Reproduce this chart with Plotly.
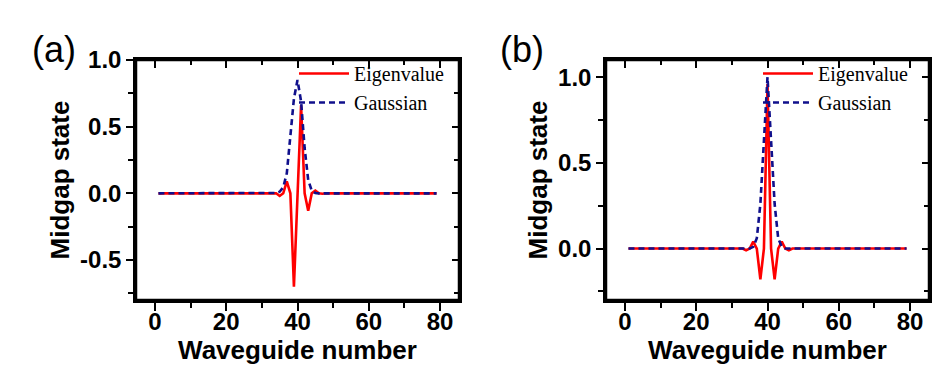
import plotly.graph_objects as go

# ---------------- data ----------------
waveguide = list(range(1, 80))

eigen_a = [
    0, 0, 0, 0, 0, 0, 0, 0, 0, 0,                      # 1-10
    0, 0, 0, 0, 0, 0, 0, 0, 0, 0,                      # 11-20
    0, 0, 0, 0, 0, 0, 0, 0, 0, 0,                      # 21-30
    0, 0, 0.003, 0, -0.02, 0, 0.09, 0, -0.70, 0,       # 31-40
    0.66, 0, -0.13, 0, 0.02, 0, -0.003, 0, 0, 0,       # 41-50
    0, 0, 0, 0, 0, 0, 0, 0, 0, 0,                      # 51-60
    0, 0, 0, 0, 0, 0, 0, 0, 0, 0,                      # 61-70
    0, 0, 0, 0, 0, 0, 0, 0, 0,                         # 71-79
]
gauss_a = [
    0, 0, 0, 0, 0, 0, 0, 0, 0, 0,
    0, 0, 0, 0, 0, 0, 0, 0, 0, 0,
    0, 0, 0, 0, 0, 0, 0, 0, 0, 0,
    0, 0, 0, 0.003, 0.012, 0.045, 0.15, 0.43, 0.71, 0.85,
    0.69, 0.34, 0.10, 0.02, 0.003, 0, 0, 0, 0, 0,
    0, 0, 0, 0, 0, 0, 0, 0, 0, 0,
    0, 0, 0, 0, 0, 0, 0, 0, 0, 0,
    0, 0, 0, 0, 0, 0, 0, 0, 0,
]
eigen_b = [
    0, 0, 0, 0, 0, 0, 0, 0, 0, 0,
    0, 0, 0, 0, 0, 0, 0, 0, 0, 0,
    0, 0, 0, 0, 0, 0, 0, 0, 0, 0,
    0, 0, 0, -0.01, 0, 0.04, 0, -0.18, 0, 0.96,
    0, -0.18, 0, 0.04, 0, -0.01, 0, 0, 0, 0,
    0, 0, 0, 0, 0, 0, 0, 0, 0, 0,
    0, 0, 0, 0, 0, 0, 0, 0, 0, 0,
    0, 0, 0, 0, 0, 0, 0, 0, 0,
]
gauss_b = [
    0, 0, 0, 0, 0, 0, 0, 0, 0, 0,
    0, 0, 0, 0, 0, 0, 0, 0, 0, 0,
    0, 0, 0, 0, 0, 0, 0, 0, 0, 0,
    0, 0, 0, 0, 0, 0.01, 0.06, 0.26, 0.63, 1.0,
    0.63, 0.26, 0.06, 0.01, 0, 0, 0, 0, 0, 0,
    0, 0, 0, 0, 0, 0, 0, 0, 0, 0,
    0, 0, 0, 0, 0, 0, 0, 0, 0, 0,
    0, 0, 0, 0, 0, 0, 0, 0, 0,
]

x_tickvals = [0, 20, 40, 60, 80]
x_ticktext = ["0", "20", "40", "60", "80"]
ya_tickvals = [-0.5, 0.0, 0.5, 1.0]
ya_ticktext = ["-0.5", "0.0", "0.5", "1.0"]
yb_tickvals = [0.0, 0.5, 1.0]
yb_ticktext = ["0.0", "0.5", "1.0"]

series_names = ["Eigenvalue", "Gaussian"]
panel_labels = ["(a)", "(b)"]
x_title = "Waveguide number"
y_title = "Midgap state"

# ---------------- style ----------------
W, H = 945, 370
RED = "#FF0000"
BLUE = "#10108C"
TICKFONT = dict(family="Arial, Liberation Sans", size=24, color="black", weight="bold")
TITLEFONT = dict(family="Arial, Liberation Sans", size=26, color="black", weight="bold")
LEGFONT = dict(family="Times New Roman, Liberation Serif", size=20, color="black")
FRAME_W = 2.5

def px_x(p):
    return p / W

def px_y(p):
    return 1 - p / H

dom_y = [px_y(292), px_y(52)]
dom_xa = [px_x(128), px_x(451)]
dom_xb = [px_x(598), px_x(921)]
xrange_ = [-5.3, 85.3]
yrange_a = [-0.8, 1.0]
yrange_b = [-0.3, 1.1]

fig = go.Figure()

panels = [
    (eigen_a, gauss_a, "x", "y", "x3", "y3", "legend"),
    (eigen_b, gauss_b, "x2", "y2", "x4", "y4", "legend2"),
]
for (ev, gs, xa, ya, xm, ym, leg) in panels:
    fig.add_trace(go.Scatter(x=waveguide, y=ev, mode="lines", name=series_names[0],
                             line=dict(color=RED, width=2.6), xaxis=xa, yaxis=ya,
                             legend=leg))
    fig.add_trace(go.Scatter(x=waveguide, y=gs, mode="lines", name=series_names[1],
                             line=dict(color=BLUE, width=2.6, dash="6px,4px"),
                             xaxis=xa, yaxis=ya, legend=leg))
    # invisible carrier so that the mirrored (inside-tick) frame axes are drawn
    fig.add_trace(go.Scatter(x=waveguide, y=ev, mode="lines", opacity=0,
                             line=dict(width=0), hoverinfo="skip", showlegend=False,
                             xaxis=xm, yaxis=ym))

def main_x(domain, anchor, title):
    return dict(domain=domain, anchor=anchor, range=xrange_, autorange=False,
                tickvals=x_tickvals, ticktext=x_ticktext, ticks="outside",
                ticklen=8, tickwidth=2, tickcolor="black", ticklabelstandoff=-10,
                minor=dict(ticks="outside", ticklen=5, tickwidth=2, dtick=10, tick0=0,
                           tickcolor="black", showgrid=False),
                showline=True, mirror=True, linewidth=FRAME_W, linecolor="black",
                showgrid=False, zeroline=False, tickfont=TICKFONT,
                title=dict(text=title, font=TITLEFONT, standoff=6))

def main_y(domain, anchor, rng, tv, tt, title):
    return dict(domain=domain, anchor=anchor, range=rng, autorange=False,
                tickvals=tv, ticktext=tt, ticks="outside",
                ticklen=7, tickwidth=2, tickcolor="black",
                minor=dict(ticks="outside", ticklen=5, tickwidth=2, dtick=0.25, tick0=0,
                           tickcolor="black", showgrid=False),
                showline=True, mirror=True, linewidth=FRAME_W, linecolor="black",
                showgrid=False, zeroline=False, tickfont=TICKFONT,
                title=dict(text=title, font=TITLEFONT, standoff=3))

def mirror_x(domain, anchor, over):
    return dict(domain=domain, anchor=anchor, overlaying=over, side="top",
                range=xrange_, autorange=False, tickvals=x_tickvals,
                ticks="inside", ticklen=8, tickwidth=2, tickcolor="black",
                minor=dict(ticks="inside", ticklen=5, tickwidth=2, dtick=10, tick0=0,
                           tickcolor="black", showgrid=False),
                showticklabels=False, showline=True, linewidth=FRAME_W, linecolor="black",
                showgrid=False, zeroline=False)

def mirror_y(domain, anchor, over, rng, tv):
    return dict(domain=domain, anchor=anchor, overlaying=over, side="right",
                range=rng, autorange=False, tickvals=tv,
                ticks="inside", ticklen=7, tickwidth=2, tickcolor="black",
                minor=dict(ticks="inside", ticklen=5, tickwidth=2, dtick=0.25, tick0=0,
                           tickcolor="black", showgrid=False),
                showticklabels=False, showline=True, linewidth=FRAME_W, linecolor="black",
                showgrid=False, zeroline=False)

fig.update_layout(
    width=W, height=H,
    margin=dict(l=0, r=0, t=0, b=0, autoexpand=False),
    paper_bgcolor="white", plot_bgcolor="white",
    xaxis=main_x(dom_xa, "y", x_title),
    yaxis=main_y(dom_y, "x", yrange_a, ya_tickvals, ya_ticktext, y_title),
    xaxis2=main_x(dom_xb, "y2", x_title),
    yaxis2=main_y(dom_y, "x2", yrange_b, yb_tickvals, yb_ticktext, y_title),
    xaxis3=mirror_x(dom_xa, "y3", "x"),
    yaxis3=mirror_y(dom_y, "x3", "y", yrange_a, ya_tickvals),
    xaxis4=mirror_x(dom_xb, "y4", "x2"),
    yaxis4=mirror_y(dom_y, "x4", "y2", yrange_b, yb_tickvals),
    legend=dict(x=px_x(286), y=px_y(46), xanchor="left", yanchor="top",
                bgcolor="rgba(0,0,0,0)", font=LEGFONT, itemwidth=50,
                tracegroupgap=0, borderwidth=0),
    legend2=dict(x=px_x(750), y=px_y(46), xanchor="left", yanchor="top",
                 bgcolor="rgba(0,0,0,0)", font=LEGFONT, itemwidth=50,
                 tracegroupgap=0, borderwidth=0),
    showlegend=True,
)

# plot-area frames (box around each panel)
for xr, yr in [("x", "y"), ("x2", "y2")]:
    fig.add_shape(type="rect", xref=f"{xr} domain", yref=f"{yr} domain",
                  x0=0, x1=1, y0=0, y1=1, layer="above",
                  line=dict(color="black", width=FRAME_W), fillcolor="rgba(0,0,0,0)")

for label, xp in zip(panel_labels, [46, 514]):
    fig.add_annotation(text=label, x=px_x(xp), y=px_y(42), xref="paper", yref="paper",
                       showarrow=False, xanchor="center", yanchor="middle",
                       font=dict(family="Arial, Liberation Sans", size=36, color="black"))

fig.write_html("out.html")
